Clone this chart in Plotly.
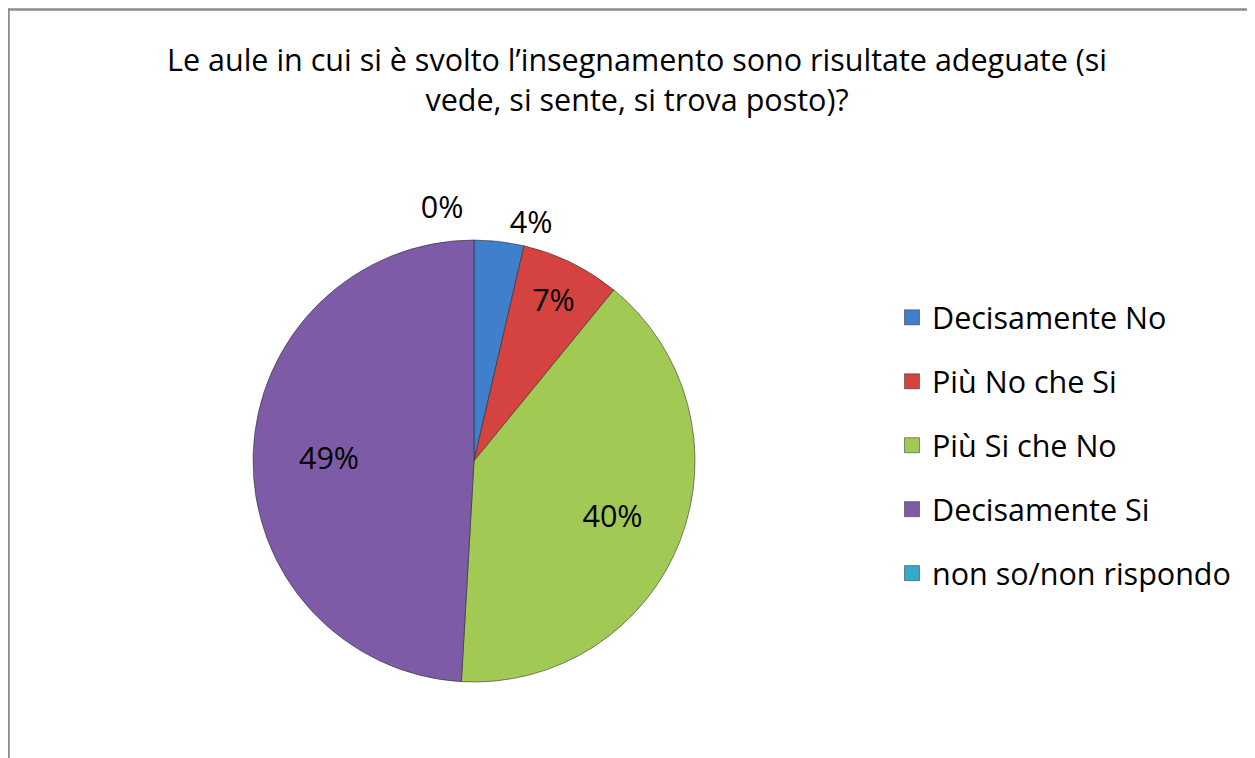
import plotly.graph_objects as go

# the page body adds an 8px margin, so the figure is sized to fit the window
OFF = 8
W, H = 1255 - OFF, 758 - OFF

title_text = ("Le aule in cui si è svolto l’insegnamento sono risultate adeguate (si<br>"
              "vede, si sente, si trova posto)?")
categories = ["Decisamente No", "Più No che Si", "Più Si che No", "Decisamente Si",
              "non so/non rispondo"]
counts = [2, 4, 22, 27, 0]
colors = ["#3F7FCB", "#D4433F", "#A3C955", "#7E5BA7", "#35AACB"]

FONT = "Open Sans, Lato, sans-serif"
FS = 30.5

CX, CY, R = 474, 461, 221      # pie centre / radius in page pixels
PULL0 = 0.06                   # only on the empty slice: lifts its label
R_TXT = 290                    # helper pie for the labels of the big slices


def px_x(x):
    # page pixel -> paper fraction
    return (x - OFF) / W


def px_y(y):
    return 1 - (y - OFF) / H


def domain(r):
    return dict(x=[px_x(CX - r), px_x(CX + r)], y=[px_y(CY + r), px_y(CY - r)])


big = [c / sum(counts) > 0.2 for c in counts]
pct = [f"{round(100 * c / sum(counts))}%" for c in counts]

fig = go.Figure()

fig.add_trace(
    go.Pie(
        labels=categories,
        values=counts,
        sort=False,
        direction="clockwise",
        rotation=0,
        pull=[0, 0, 0, 0, PULL0],
        marker=dict(colors=colors,
                    line=dict(color="rgba(40,40,40,0.55)",
                              width=[0 if c == 0 else 1 for c in counts])),
        text=["" if b else p for b, p in zip(big, pct)],
        texttemplate="%{text}",
        textposition=["outside", "inside", "inside", "inside", "outside"],
        insidetextorientation="horizontal",
        textfont=dict(family=FONT, size=FS, color="#000000"),
        showlegend=False,
        hoverinfo="label+value+percent",
        domain=domain(R * (1 + PULL0)),
    )
)

# transparent copy of the pie, larger, so the labels of the big slices sit further out
fig.add_trace(
    go.Pie(
        labels=categories,
        values=counts,
        sort=False,
        direction="clockwise",
        rotation=0,
        marker=dict(colors=["rgba(0,0,0,0)"] * len(counts),
                    line=dict(width=0)),
        text=[p if b else "" for b, p in zip(big, pct)],
        texttemplate="%{text}",
        textposition="inside",
        insidetextorientation="horizontal",
        textfont=dict(family=FONT, size=FS, color="#000000"),
        showlegend=False,
        hoverinfo="skip",
        domain=domain(R_TXT),
    )
)

# legend entries, one per category, so the item spacing can be set
for name, col in zip(categories, colors):
    fig.add_trace(
        go.Scatter(
            x=[None],
            y=[None],
            mode="markers",
            name=name,
            legendgroup=name,
            marker=dict(symbol="square", size=15, color=col,
                        line=dict(color="rgba(40,40,40,0.5)", width=1)),
        )
    )

fig.update_layout(
    width=W,
    height=H,
    margin=dict(l=0, r=0, t=0, b=0),
    paper_bgcolor="white",
    plot_bgcolor="white",
    font=dict(family=FONT, color="#000000"),
    title=dict(
        text=title_text,
        x=px_x(637),
        xanchor="center",
        y=px_y(71),
        yanchor="top",
        font=dict(family=FONT, size=FS, color="#000000"),
    ),
    xaxis=dict(visible=False),
    yaxis=dict(visible=False),
    uniformtext=dict(minsize=FS, mode="show"),
    legend=dict(
        x=px_x(892),
        y=px_y(291),
        xanchor="left",
        yanchor="top",
        font=dict(family=FONT, size=FS, color="#000000"),
        tracegroupgap=21.3,
        itemwidth=30,
        bgcolor="rgba(0,0,0,0)",
    ),
    shapes=[
        dict(type="line", xref="paper", yref="paper",
             x0=px_x(8.8), x1=px_x(8.8), y0=0, y1=px_y(8.5),
             line=dict(color="#8C8C8C", width=2)),
        dict(type="line", xref="paper", yref="paper",
             x0=px_x(8), x1=1, y0=px_y(9.5), y1=px_y(9.5),
             line=dict(color="#8C8C8C", width=2.5)),
    ],
)

fig.write_html("out.html")
